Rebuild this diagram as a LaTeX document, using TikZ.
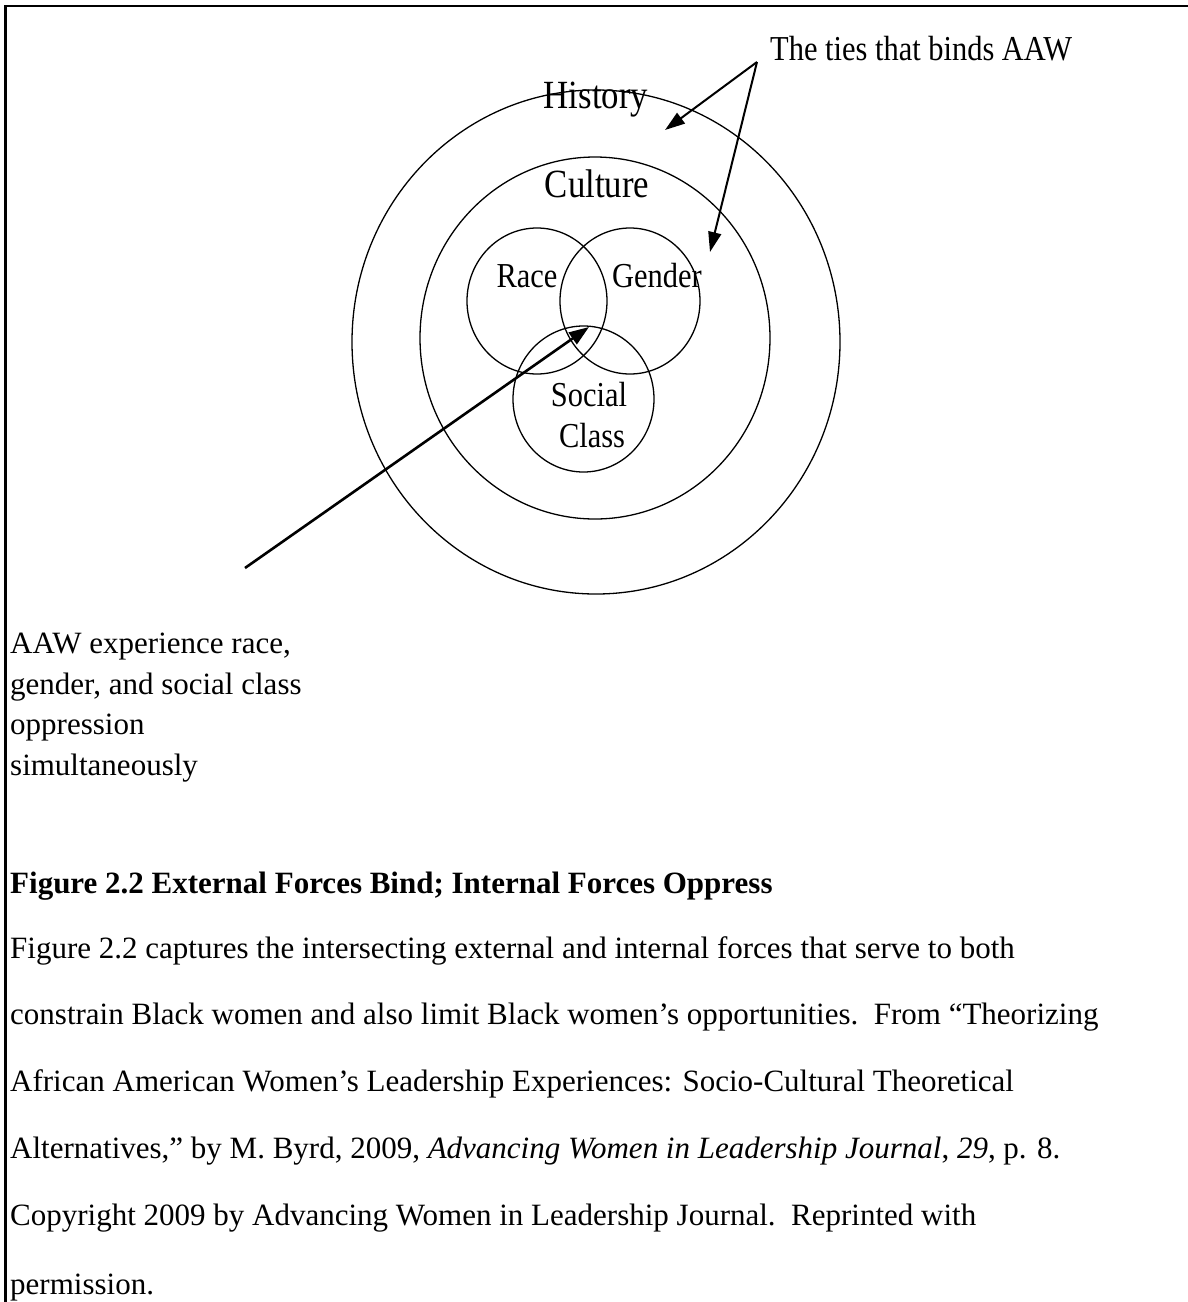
\documentclass[tikz,border=0pt]{standalone}
\usepackage{fontspec}
\setmainfont{Liberation Serif}
\newfontfamily\condfont[FakeStretch=0.87]{Liberation Serif}
\usetikzlibrary{arrows.meta,shapes.geometric}
\begin{document}
\begin{tikzpicture}[x=1pt,y=-1pt,
  ring/.style={draw, ellipse, line width=1.3pt, inner sep=0pt},
  lbl/.style={anchor=base, font=\condfont\fontsize{35}{35}\selectfont, inner sep=0pt},
  biglbl/.style={anchor=base, font=\condfont\fontsize{40}{40}\selectfont, inner sep=0pt},
  txt/.style={anchor=base west, font=\fontsize{31}{31}\selectfont, inner sep=0pt},
  arr/.style={-{Triangle[length=20pt,width=13pt]}, line width=2pt},
  bigarr/.style={-{Triangle[length=20pt,width=14pt]}, line width=2.6pt},
]
\useasboundingbox (0,0) rectangle (1188,1302);
\fill[white] (0,0) rectangle (1188,1302);
% frame
\draw[line width=2.2pt] (5.5,1302) -- (5.5,6) -- (1188,6);

% rings
\node[ring, minimum width=488pt, minimum height=504pt] (hist) at (596,342) {};
\node[ring, minimum width=350pt, minimum height=362pt] (cult) at (595,338) {};
\node[ring, minimum width=140pt, minimum height=146pt] (race) at (537,301) {};
\node[ring, minimum width=140pt, minimum height=146pt] (gend) at (630,301) {};
\node[ring, minimum width=141pt, minimum height=146pt] (soc) at (583.5,399) {};

% labels
\node[biglbl] (lhist) at (596,108) {History};
\node[biglbl] (lcult) at (597,197) {Culture};
\node[lbl] (lrace) at (527,287) {Race};
\node[lbl] (lgend) at (657,287) {Gender};
\node[lbl] (lsoc) at (589,406) {Social};
\node[lbl] (lclass) at (592,447) {Class};

% ties
\node[lbl, anchor=base west] (ties) at (770,60) {The ties that binds AAW};
\coordinate (apex) at (757,62);
\coordinate (tipA) at (665,130);
\coordinate (tipB) at (710,252);
\draw[arr] (apex) -- (tipA);
\draw[arr] (apex) -- (tipB);

% oppression arrow
\coordinate (start) at (245,568);
\coordinate (centre) at (589,327);
\draw[bigarr] (start) -- (centre);

% left text
\node[txt] (l1) at (10,653) {AAW experience race,};
\node[txt] (l2) at (10,694) {gender, and social class};
\node[txt] (l3) at (10,734) {oppression};
\node[txt] (l4) at (10,775) {simultaneously};

% caption
\node[txt, font=\bfseries\fontsize{31}{31}\selectfont] (cap) at (10,893) {Figure 2.2 External Forces Bind; Internal Forces Oppress};
\node[txt] (b1) at (10,958) {Figure 2.2 captures the intersecting external and internal forces that serve to both};
\node[txt] (b2) at (10,1024) {constrain Black women and also limit Black women’s opportunities.\ \ From “Theorizing};
\node[txt] (b3) at (10,1091) {African American Women’s Leadership Experiences: Socio-Cultural Theoretical};
\node[txt] (b4) at (10,1158) {Alternatives,” by M. Byrd, 2009, \textit{Advancing Women in Leadership Journal}, \textit{29}, p. 8.};
\node[txt] (b5) at (10,1225) {Copyright 2009 by Advancing Women in Leadership Journal.\ \ Reprinted with};
\node[txt] (b6) at (10,1294) {permission.};
\end{tikzpicture}
\end{document}
